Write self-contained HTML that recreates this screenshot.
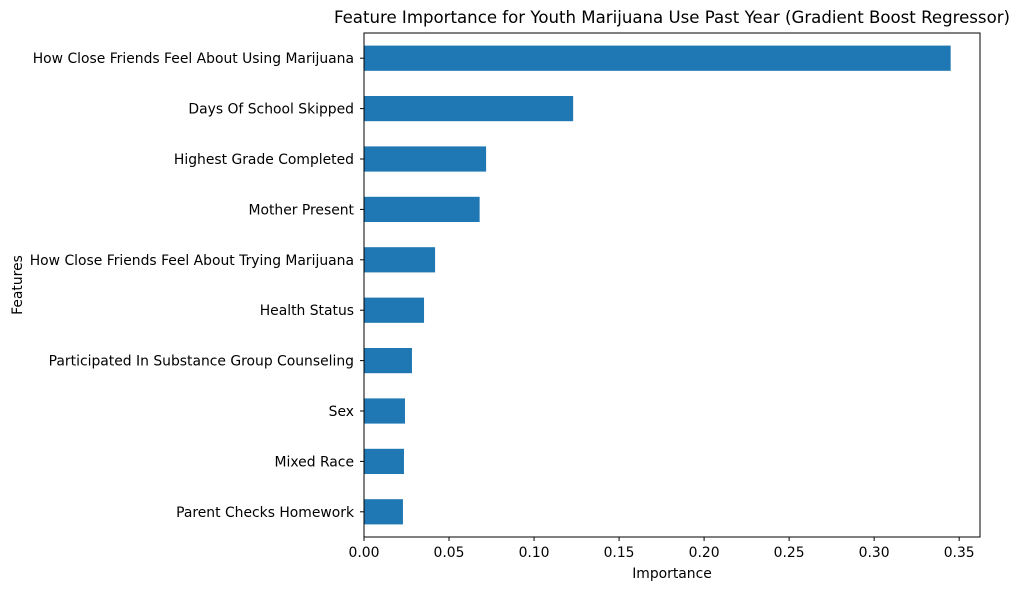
<!DOCTYPE html>
<html><head><meta charset="utf-8"><style>
body{margin:0;background:#fff;font-family:"Liberation Sans","DejaVu Sans",sans-serif;}
svg text{font-family:"DejaVu Sans","Liberation Sans",sans-serif;fill:#000;}
</style></head><body>
<svg id="chart" width="1020" height="590" xmlns="http://www.w3.org/2000/svg"></svg>
<script>
const categories=["How Close Friends Feel About Using Marijuana","Days Of School Skipped","Highest Grade Completed","Mother Present","How Close Friends Feel About Trying Marijuana","Health Status","Participated In Substance Group Counseling","Sex","Mixed Race","Parent Checks Homework"];
const importance=[0.345,0.123,0.0718,0.068,0.0418,0.0353,0.0282,0.0241,0.0235,0.0229];
const xTicks=[0,0.05,0.10,0.15,0.20,0.25,0.30,0.35];
const xTickLabels=["0.00","0.05","0.10","0.15","0.20","0.25","0.30","0.35"];
const svg=document.getElementById('chart');
const NS="http://www.w3.org/2000/svg";
const L=364,R=980,T=33,B=537;
const xMax=Math.max(...importance)*1.05;
const x=v=>L+v/xMax*(R-L);
const band=(B-T)/categories.length;
const y=i=>T+band*(i+0.5);
function mk(tag,attrs,text){const e=document.createElementNS(NS,tag);for(const k in attrs)e.setAttribute(k,attrs[k]);if(text!==undefined)e.textContent=text;svg.appendChild(e);return e;}
importance.forEach((v,i)=>{
  const r=mk('rect',{x:x(0),y:y(i)-band*0.25,width:x(v)-x(0),height:band*0.5,fill:'#1f77b4'});
  
  
  mk('line',{x1:L-4,x2:L,y1:y(i),y2:y(i),stroke:'#000','stroke-width':1});
  const t=mk('text',{x:L-10,y:y(i)+5,'text-anchor':'end','font-size':13.9},categories[i]);
  
  
});
xTicks.forEach((v,i)=>{
  mk('line',{x1:x(v),x2:x(v),y1:B,y2:B+4,stroke:'#000','stroke-width':1});
  const t=mk('text',{x:x(v),y:B+20,'text-anchor':'middle','font-size':13.9},xTickLabels[i]);
  
  
});
const frame=mk('rect',{x:L,y:T,width:R-L,height:B-T,fill:'none',stroke:'#000','stroke-width':1});


const xt=mk('text',{x:(L+R)/2,y:578,'text-anchor':'middle','font-size':13.9},'Importance');


const yt=mk('text',{x:22,y:(T+B)/2,'text-anchor':'middle','font-size':13.9,transform:`rotate(-90 22 ${(T+B)/2})`},'Features');


const ti=mk('text',{x:(L+R)/2,y:23,'text-anchor':'middle','font-size':16.6},'Feature Importance for Youth Marijuana Use Past Year (Gradient Boost Regressor)');


</script>
</body></html>
